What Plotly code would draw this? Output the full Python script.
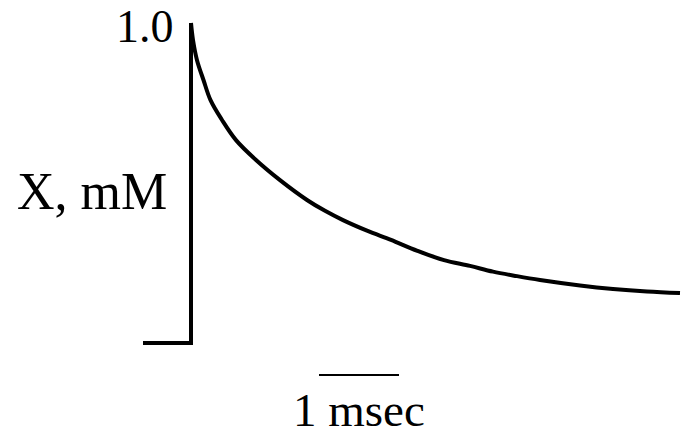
import plotly.graph_objects as go

# time in msec, concentration in mM
t_base = [-0.6, 0.0, 0.0]
x_base = [0.0, 0.0, 1.0]
t_decay = [0.0, 0.025, 0.075, 0.156, 0.244, 0.3875, 0.5625, 0.8125, 1.1125,
           1.45, 1.675, 1.9, 2.2, 2.5, 2.83, 3.1625, 3.4875, 3.775, 4.075,
           4.3625, 4.8625, 5.275, 5.7, 6.1125]
x_decay = [1.0, 0.947, 0.884, 0.822, 0.759, 0.697, 0.634, 0.572, 0.509,
           0.447, 0.413, 0.384, 0.351, 0.322, 0.288, 0.259, 0.241, 0.223,
           0.209, 0.197, 0.180, 0.169, 0.161, 0.156]
scale_t = [1.6, 2.6]
scale_x = [-0.1, -0.1]

font = "Liberation Serif, Times New Roman, serif"

fig = go.Figure()
fig.add_trace(go.Scatter(x=t_base, y=x_base, mode="lines",
                         line=dict(color="black", width=4), hoverinfo="skip"))
fig.add_trace(go.Scatter(x=t_decay, y=x_decay, mode="lines",
                         line=dict(color="black", width=4, shape="spline", smoothing=1.0),
                         hoverinfo="skip"))
fig.add_trace(go.Scatter(x=scale_t, y=scale_x, mode="lines",
                         line=dict(color="black", width=2), hoverinfo="skip"))

fig.add_annotation(x=-0.1875, y=0.99, text="1.0", showarrow=False,
                   xanchor="right", yanchor="middle",
                   font=dict(family=font, size=46, color="black"))
fig.add_annotation(x=-0.28, y=0.472, text="X, mM", showarrow=False,
                   xanchor="right", yanchor="middle",
                   font=dict(family=font, size=52, color="black"))
fig.add_annotation(x=2.1, y=-0.21, text="1 msec", showarrow=False,
                   xanchor="center", yanchor="middle",
                   font=dict(family=font, size=47, color="black"))

fig.update_layout(
    width=682, height=443,
    margin=dict(l=0, r=0, t=0, b=0),
    paper_bgcolor="white", plot_bgcolor="white",
    showlegend=False,
    xaxis=dict(range=[-2.3875, 6.1375], visible=False, fixedrange=True),
    yaxis=dict(range=[-0.3125, 1.072], visible=False, fixedrange=True),
)
fig.write_html("out.html", config={"displayModeBar": False},
               post_script="document.body.style.margin='0';document.body.style.overflow='hidden';")
